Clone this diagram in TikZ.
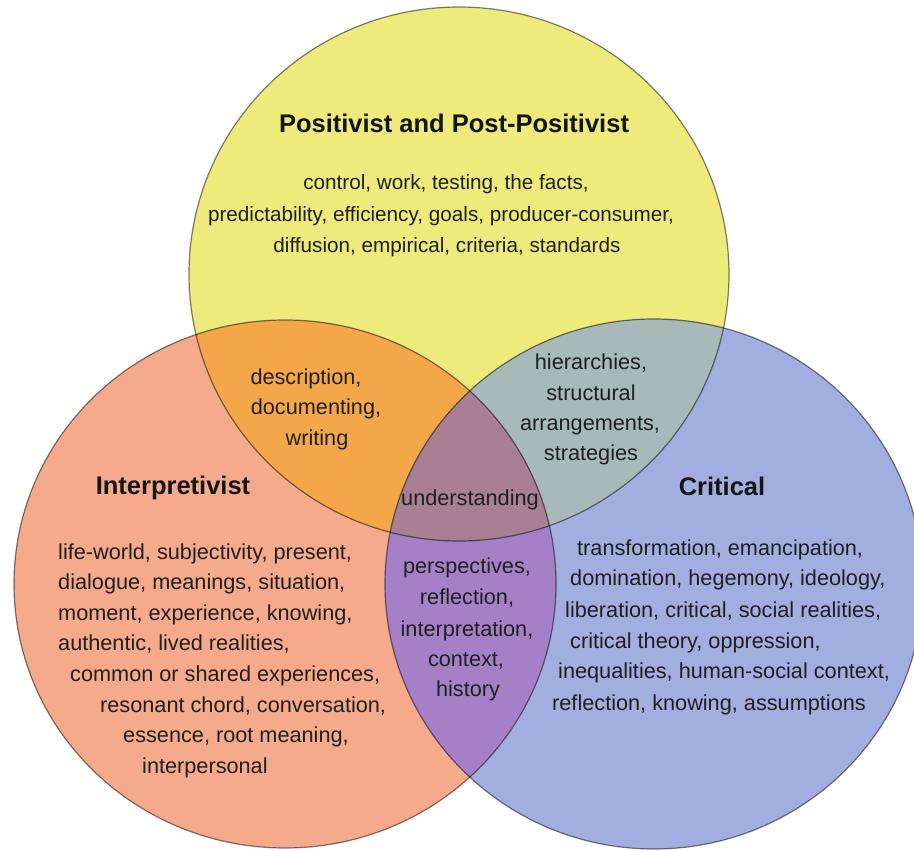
\documentclass[tikz,border=0pt]{standalone}
\usepackage{fontspec}
\setmainfont{Liberation Sans}

\definecolor{posyellow}{RGB}{238,234,124}
\definecolor{intsalmon}{RGB}{245,170,140}
\definecolor{critblue}{RGB}{162,174,224}
\definecolor{mixorange}{RGB}{244,167,72}
\definecolor{mixteal}{RGB}{168,185,185}
\definecolor{mixpurple}{RGB}{166,128,198}
\definecolor{mixmauve}{RGB}{168,127,147}

% the three rings
\newcommand\posring{(459,274) ellipse [x radius=270, y radius=267]}
\newcommand\intring{(285,584) ellipse [x radius=271, y radius=264]}
\newcommand\critring{(654,584) ellipse [x radius=269, y radius=265]}

\begin{document}
\begin{tikzpicture}[x=1pt,y=-1pt,
    ring/.style={draw=black,draw opacity=0.5,line width=1.2pt},
    head/.style={font=\fontsize{25.5}{30}\selectfont\bfseries,text=black!92,inner sep=0pt,anchor=base},
    words/.style={font=\fontsize{21.7}{31}\selectfont,text=black!88,inner sep=0pt,anchor=base},
    wordss/.style={words,font=\fontsize{20.7}{31}\selectfont},
    wordsl/.style={words,anchor=base west}]

    \useasboundingbox (0,0) rectangle (914,851);

    % Plain fills
    \fill[posyellow] \posring;
    \fill[intsalmon] \intring;
    \fill[critblue] \critring;

    % Overlaps
    \begin{scope}
        \clip \posring;
        \fill[mixorange] \intring;
        \fill[mixteal] \critring;
    \end{scope}
    \begin{scope}
        \clip \intring;
        \fill[mixpurple] \critring;
    \end{scope}
    \begin{scope}
        \clip \posring;
        \clip \intring;
        \fill[mixmauve] \critring;
    \end{scope}

    % Outlines
    \draw[ring] \posring;
    \draw[ring] \intring;
    \draw[ring] \critring;

    % Positivist
    \node[head] (posTitle) at (454,132) {Positivist and Post-Positivist};
    \node[wordss] (pos1) at (446,189) {control, work, testing, the facts,};
    \node[wordss] (pos2) at (441,221) {predictability, efficiency, goals, producer-consumer,};
    \node[wordss] (pos3) at (447,252) {diffusion, empirical, criteria, standards};

    % Positivist + Interpretivist
    \node[words] (desc1) at (306,384) {description,};
    \node[words] (desc2) at (316,414) {documenting,};
    \node[words] (desc3) at (317,445) {writing};

    % Positivist + Critical
    \node[words] (hier1) at (591,369) {hierarchies,};
    \node[words] (hier2) at (591,400) {structural};
    \node[words] (hier3) at (590,430) {arrangements,};
    \node[words] (hier4) at (591,460) {strategies};

    % All three
    \node[words] (under) at (470,505) {understanding};

    % Interpretivist
    \node[head] (intTitle) at (173,494) {Interpretivist};
    \node[wordsl] (int1) at (58,559) {life-world, subjectivity, present,};
    \node[wordsl] (int2) at (58,589) {dialogue, meanings, situation,};
    \node[wordsl] (int3) at (58,620) {moment, experience, knowing,};
    \node[wordsl] (int4) at (58,650) {authentic, lived realities,};
    \node[wordsl] (int5) at (70,681) {common or shared experiences,};
    \node[wordsl] (int6) at (100,712) {resonant chord, conversation,};
    \node[wordsl] (int7) at (123,742) {essence, root meaning,};
    \node[wordsl] (int8) at (142,773) {interpersonal};

    % Interpretivist + Critical
    \node[words] (persp1) at (467,573) {perspectives,};
    \node[words] (persp2) at (467,604) {reflection,};
    \node[words] (persp3) at (467,636) {interpretation,};
    \node[words] (persp4) at (466,666) {context,};
    \node[words] (persp5) at (468,696) {history};

    % Critical
    \node[head] (critTitle) at (722,495) {Critical};
    \node[wordsl] (crit1) at (577,555) {transformation, emancipation,};
    \node[wordsl] (crit2) at (570,585) {domination, hegemony, ideology,};
    \node[wordsl] (crit3) at (565,617) {liberation, critical, social realities,};
    \node[wordsl] (crit4) at (570,648) {critical theory, oppression,};
    \node[wordsl] (crit5) at (558,678) {inequalities, human-social context,};
    \node[wordsl] (crit6) at (552,710) {reflection, knowing, assumptions};
\end{tikzpicture}
\end{document}
